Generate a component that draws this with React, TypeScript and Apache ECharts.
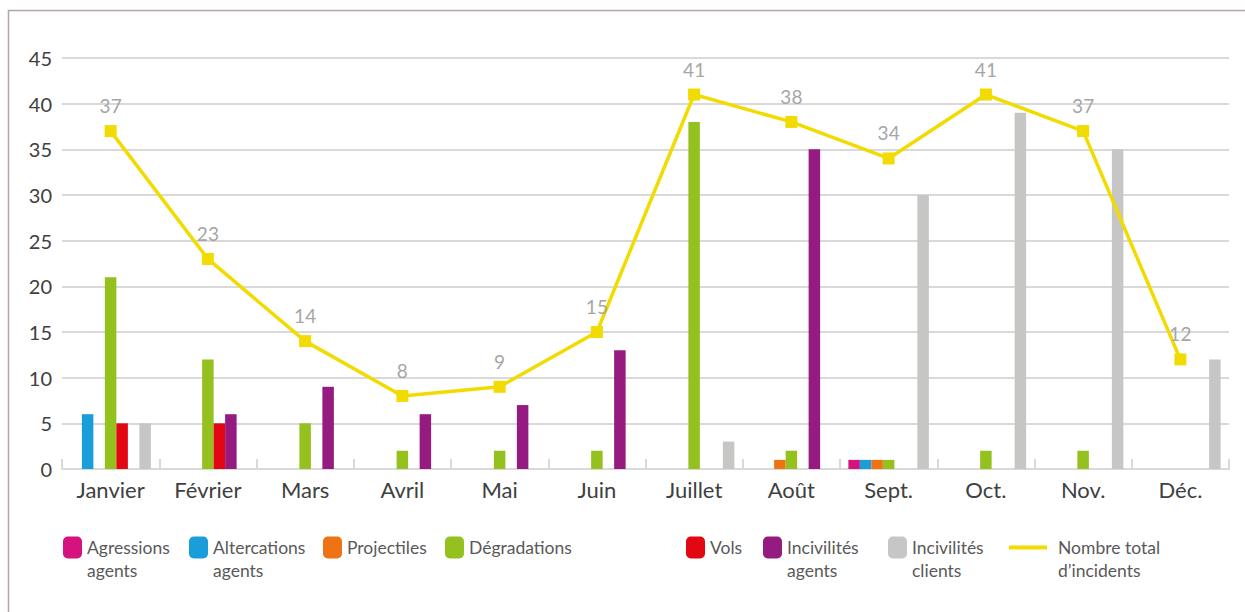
import React, { useEffect, useRef } from "react";
import * as echarts from "echarts";

const months = ["Janvier", "Février", "Mars", "Avril", "Mai", "Juin", "Juillet", "Août", "Sept.", "Oct.", "Nov.", "Déc."];
const agressionsAgents = [0, 0, 0, 0, 0, 0, 0, 0, 1, 0, 0, 0];
const altercationsAgents = [6, 0, 0, 0, 0, 0, 0, 0, 1, 0, 0, 0];
const projectiles = [0, 0, 0, 0, 0, 0, 0, 1, 1, 0, 0, 0];
const degradations = [21, 12, 5, 2, 2, 2, 38, 2, 1, 2, 2, 0];
const vols = [5, 5, 0, 0, 0, 0, 0, 0, 0, 0, 0, 0];
const incivilitesAgents = [0, 6, 9, 6, 7, 13, 0, 35, 0, 0, 0, 0];
const incivilitesClients = [5, 0, 0, 0, 0, 0, 3, 0, 30, 39, 35, 12];
const totalIncidents = [37, 23, 14, 8, 9, 15, 41, 38, 34, 41, 37, 12];
const yTicks = [0, 5, 10, 15, 20, 25, 30, 35, 40, 45];

const FONT = "Lato, 'Open Sans', sans-serif";

const barSeriesDefs = [
  { name: "Agressions agents", label: "Agressions\nagents", data: agressionsAgents, color: "#D5137F", left: 63, two: true },
  { name: "Altercations agents", label: "Altercations\nagents", data: altercationsAgents, color: "#1A9ED9", left: 189, two: true },
  { name: "Projectiles", label: "Projectiles", data: projectiles, color: "#EE7314", left: 323, two: false },
  { name: "Dégradations", label: "Dégradations", data: degradations, color: "#95C11F", left: 445, two: false },
  { name: "Vols", label: "Vols", data: vols, color: "#E30613", left: 686, two: false },
  { name: "Incivilités agents", label: "Incivilités\nagents", data: incivilitesAgents, color: "#951B81", left: 763, two: true },
  { name: "Incivilités clients", label: "Incivilités\nclients", data: incivilitesClients, color: "#C6C6C5", left: 888, two: true },
];

export default function App() {
  const ref = useRef<HTMLDivElement>(null);
  useEffect(() => {
    if (!ref.current) return;
    const chart = echarts.init(ref.current, null, { renderer: "svg" });

    const series: any[] = barSeriesDefs.map((d) => ({
      name: d.name,
      type: "bar",
      data: d.data,
      barWidth: 11.5,
      barGap: "0%",
      itemStyle: { color: d.color },
      z: 2,
    }));
    series.push({
      name: "Nombre total d’incidents",
      type: "line",
      data: totalIncidents,
      symbol: "rect",
      symbolSize: 12,
      lineStyle: { color: "#F2DB00", width: 3.5 },
      itemStyle: { color: "#F2DB00" },
      label: {
        show: true,
        position: "top",
        distance: 10,
        color: "#A6A6A6",
        fontSize: 19,
        fontFamily: FONT,
      },
      z: 5,
    });

    const legendText = {
      fontSize: 17.5,
      fontFamily: FONT,
      color: "#595959",
      lineHeight: 23,
    };

    const legends: any[] = barSeriesDefs.map((d) => ({
      data: [d.name],
      left: d.left,
      top: d.two ? 513 : 536,
      padding: 0,
      itemWidth: 19,
      itemHeight: 22,
      itemGap: 0,
      formatter: () => (d.two ? "\n" + d.label : d.label),
      textStyle: { ...legendText },
      selectedMode: false,
    }));
    legends.push({
      data: [{ name: "Nombre total d’incidents", icon: "rect" }],
      left: 1009,
      top: 513,
      padding: 0,
      itemWidth: 38,
      itemHeight: 4,
      formatter: () => "\nNombre total\nd’incidents",
      textStyle: { ...legendText, padding: [0, 0, 0, 6] },
      selectedMode: false,
    });

    chart.setOption({
      animation: false,
      backgroundColor: "#ffffff",
      grid: { left: 62, right: 16, top: 58, bottom: 143, containLabel: false },
      legend: legends,
      graphic: [
        {
          type: "rect",
          shape: { x: 8.5, y: 10.5, width: 1400, height: 800 },
          style: { fill: "none", stroke: "#B2A5AC", lineWidth: 1.5 },
          silent: true,
          z: -10,
        },
      ],
      xAxis: {
        type: "category",
        data: months,
        axisLine: { lineStyle: { color: "#D9D9D9", width: 2 } },
        axisTick: { show: true, inside: true, length: 10, lineStyle: { color: "#D9D9D9", width: 2 } },
        axisLabel: { color: "#404040", fontSize: 22, fontFamily: FONT, margin: 9 },
      },
      yAxis: {
        type: "value",
        min: 0,
        max: 45,
        interval: 5,
        axisLine: { show: false },
        axisTick: { show: false },
        axisLabel: {
          color: "#404040",
          fontSize: 20,
          fontFamily: FONT,
          margin: 10,
          formatter: (v: number) => (yTicks.includes(v) ? String(v) : ""),
        },
        splitLine: { lineStyle: { color: "#D9D9D9", width: 2 } },
      },
      series,
    });
    return () => chart.dispose();
  }, []);
  return (
    <div
      ref={ref}
      style={{ position: "fixed", left: 0, top: 0, width: 1245, height: 612 }}
    />
  );
}
